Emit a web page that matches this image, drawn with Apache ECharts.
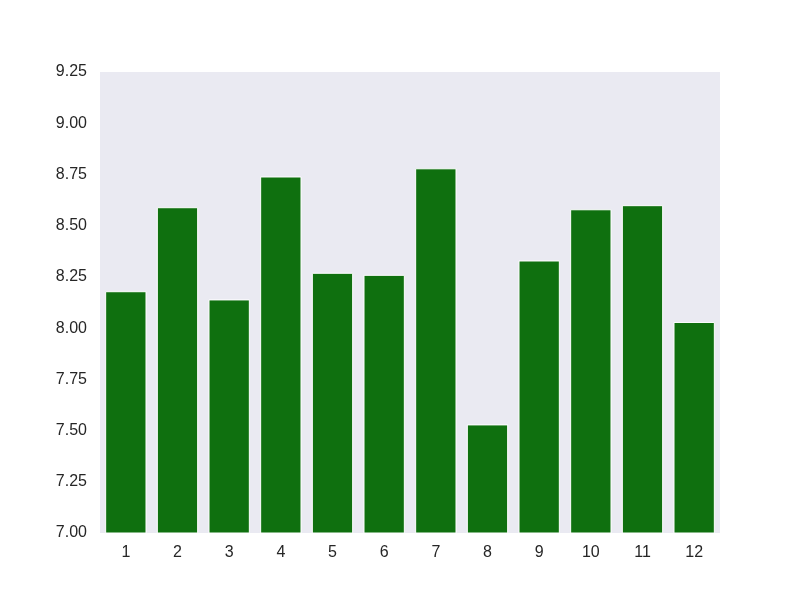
<!DOCTYPE html>
<html>
<head>
<meta charset="utf-8">
<script src="https://cdn.jsdelivr.net/npm/echarts@6/dist/echarts.min.js"></script>
<style>
  html, body { margin: 0; padding: 0; background: #fff; }
  #chart { width: 800px; height: 600px; }
</style>
</head>
<body>
<div id="chart"></div>
<script>
// months 1..12
const categories = ['1', '2', '3', '4', '5', '6', '7', '8', '9', '10', '11', '12'];
const values = [8.18, 8.59, 8.14, 8.74, 8.27, 8.26, 8.78, 7.53, 8.33, 8.58, 8.60, 8.03];
const yTicks = [7.0, 7.25, 7.5, 7.75, 8.0, 8.25, 8.5, 8.75, 9.0, 9.25];

const FONT = {
  fontFamily: 'Arial, "Liberation Sans", sans-serif',
  fontSize: 16,
  color: '#262626'
};

const chart = echarts.init(document.getElementById('chart'), null, { renderer: 'canvas' });

const option = {
  backgroundColor: '#ffffff',
  animation: false,
  grid: {
    left: 100,
    right: 80,
    top: 72,
    bottom: 67,
    show: true,
    backgroundColor: '#eaeaf2',
    borderWidth: 0
  },
  xAxis: {
    type: 'category',
    data: categories,
    axisLine: { show: false },
    axisTick: { show: false },
    axisLabel: { ...FONT, margin: 12 },
    splitLine: { show: false }
  },
  yAxis: {
    type: 'value',
    min: yTicks[0],
    max: yTicks[yTicks.length - 1],
    interval: 0.25,
    axisLine: { show: false },
    axisTick: { show: false },
    splitLine: { show: false },
    axisLabel: {
      ...FONT,
      margin: 13,
      formatter: (v) => v.toFixed(2)
    }
  },
  series: [
    {
      type: 'bar',
      data: values,
      barCategoryGap: '20%',
      itemStyle: {
        color: '#0f700f',
        borderColor: '#ffffff',
        borderWidth: 1
      }
    }
  ]
};

chart.setOption(option);
</script>
</body>
</html>
